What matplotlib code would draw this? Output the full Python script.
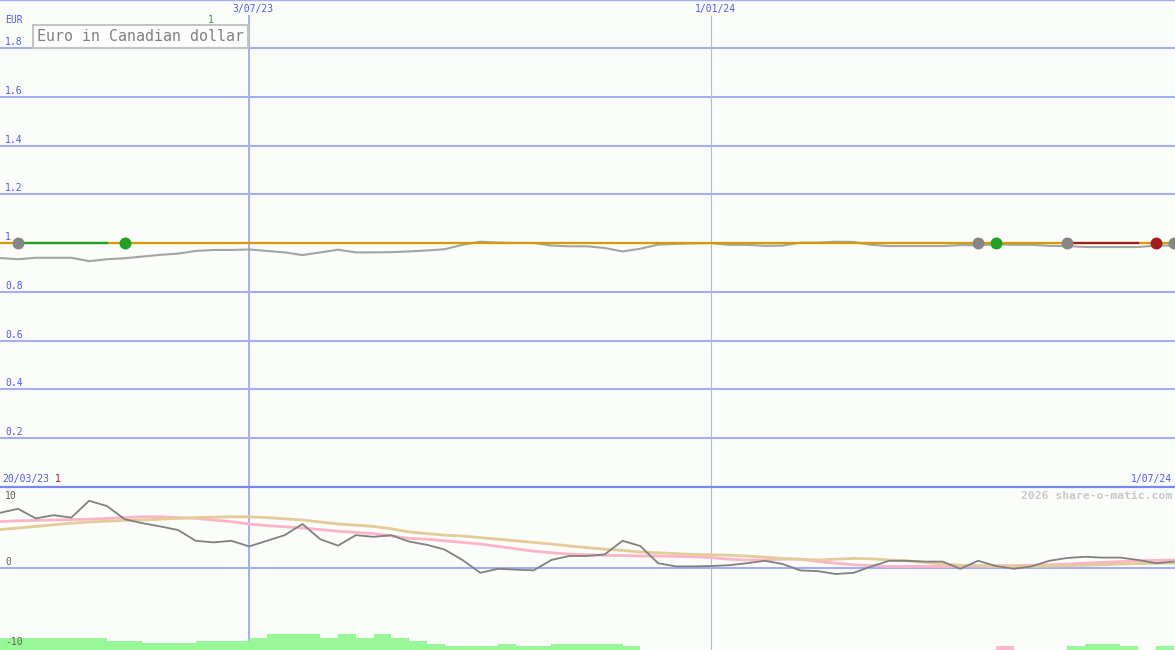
import numpy as np
import pandas as pd
import matplotlib
matplotlib.use("Agg")
import matplotlib.pyplot as plt
import matplotlib.dates as mdates
from matplotlib import transforms

plt.rcParams["font.family"] = ["DejaVu Sans Mono"]

W, H = 1175, 650

# weekly closes, first week starts 27/03/23
START = "2023-03-27"
PRICE = [0.939, 0.934, 0.940, 0.940, 0.940, 0.926, 0.934, 0.938, 0.945, 0.952,
         0.957, 0.968, 0.972, 0.972, 0.974, 0.968, 0.962, 0.951, 0.962, 0.973,
         0.962, 0.962, 0.963, 0.966, 0.970, 0.975, 0.993, 1.006, 1.002, 1.001,
         1.001, 0.990, 0.987, 0.987, 0.980, 0.966, 0.977, 0.994, 0.997, 0.999,
         1.000, 0.993, 0.993, 0.989, 0.990, 1.002, 1.002, 1.006, 1.005, 0.993,
         0.988, 0.988, 0.988, 0.988, 0.992, 0.991, 0.995, 0.993, 0.993, 0.989,
         0.988, 0.984, 0.984, 0.984, 0.984, 0.990, 0.990]
REF_LEVEL = 1.0

# oscillator panel
OSC = [6.9, 7.4, 6.2, 6.6, 6.3, 8.4, 7.75, 6.1, 5.6, 5.2,
       4.75, 3.4, 3.2, 3.4, 2.7, 3.4, 4.1, 5.5, 3.6, 2.8,
       4.1, 3.9, 4.1, 3.3, 2.9, 2.3, 1.0, -0.6, -0.1, -0.2,
       -0.3, 1.0, 1.5, 1.5, 1.7, 3.4, 2.75, 0.6, 0.2, 0.2,
       0.25, 0.35, 0.6, 0.9, 0.5, -0.3, -0.4, -0.75, -0.6, 0.2,
       0.9, 0.9, 0.8, 0.8, -0.1, 0.9, 0.25, -0.1, 0.2, 0.9,
       1.25, 1.4, 1.3, 1.3, 1.0, 0.6, 0.8]
SIG_PINK = [5.8, 5.9, 5.95, 6.0, 6.05, 6.1, 6.2, 6.3, 6.4, 6.4,
            6.3, 6.2, 6.0, 5.8, 5.5, 5.3, 5.15, 5.0, 4.8, 4.6,
            4.45, 4.3, 4.0, 3.7, 3.6, 3.4, 3.2, 3.0, 2.7, 2.4,
            2.1, 1.9, 1.75, 1.65, 1.6, 1.55, 1.5, 1.5, 1.45, 1.4,
            1.3, 1.1, 1.0, 1.0, 1.1, 1.1, 0.8, 0.6, 0.4, 0.3,
            0.2, 0.2, 0.2, 0.2, 0.2, 0.3, 0.3, 0.3, 0.35, 0.4,
            0.5, 0.6, 0.7, 0.8, 0.9, 0.95, 1.0]
SIG_TAN = [4.8, 5.0, 5.2, 5.4, 5.6, 5.75, 5.85, 5.95, 6.0, 6.1,
           6.2, 6.3, 6.35, 6.4, 6.4, 6.3, 6.15, 6.0, 5.75, 5.5,
           5.35, 5.2, 4.9, 4.5, 4.3, 4.1, 4.0, 3.8, 3.6, 3.4,
           3.2, 3.0, 2.75, 2.55, 2.35, 2.2, 2.0, 1.9, 1.8, 1.7,
           1.65, 1.6, 1.5, 1.35, 1.2, 1.1, 1.0, 1.1, 1.2, 1.15,
           1.0, 0.9, 0.7, 0.5, 0.35, 0.25, 0.2, 0.2, 0.2, 0.25,
           0.3, 0.35, 0.4, 0.5, 0.55, 0.6, 0.6]
HIST = [1.55, 1.55, 1.55, 1.55, 1.55, 1.55, 1.15, 1.15, 0.85, 0.85,
        0.85, 1.15, 1.15, 1.15, 1.55, 1.95, 1.95, 1.95, 1.55, 1.95,
        1.55, 1.95, 1.55, 1.15, 0.75, 0.45, 0.45, 0.45, 0.75, 0.45,
        0.45, 0.75, 0.75, 0.75, 0.75, 0.45, 0, 0, 0, 0,
        0, 0, 0, 0, 0, 0, 0, 0, 0, 0,
        0, 0, 0, 0, 0, 0, -0.45, 0, 0, 0,
        0.45, 0.75, 0.75, 0.45, 0, 0.45, 0]

# trades: open week index, close week index, result
TRADE_OPEN = [1, 55, 60]
TRADE_CLOSE = [7, 56, 65]
TRADE_WIN = [True, True, False]
OPEN_NOW = 66

PRICE_TICKS = [0.2, 0.4, 0.6, 0.8, 1.0, 1.2, 1.4, 1.6, 1.8]
OSC_TICKS = [10, 0, -10]
MARK_DATES = ["2023-07-03", "2024-01-01"]
MARK_LABELS = ["3/07/23", "1/01/24"]

BG = "#fbfdfb"
GRID = "#a6aef2"
BLUE_TXT = "#4c5ce6"
WIN_C, LOSS_C, OPEN_C = "#22a022", "#a21c1c", "#868686"

dates = pd.date_range(START, periods=len(PRICE), freq="7D")
px_per_day = 2.54
x0 = mdates.date2num(dates[0]) - 0.2 / px_per_day
xlim = (x0, x0 + W / px_per_day)

fig = plt.figure(figsize=(W / 100, H / 100), dpi=100, facecolor=BG)
ax1 = fig.add_axes([0, 163 / H, 1, 487 / H], facecolor=BG)
ax2 = fig.add_axes([0, 0, 1, 163 / H], facecolor=BG)
for ax in (ax1, ax2):
    ax.set_xlim(xlim)
    ax.set_xticks([])
    ax.set_yticks([])
    for s in ax.spines.values():
        s.set_visible(False)
ax1.set_ylim(0, 1.997)
ax2.set_ylim(-10.25, 10.125)

# --- top panel: price + trades
for v in PRICE_TICKS:
    ax1.axhline(v, color=GRID, lw=1.5, zorder=1)
ax1.spines["top"].set_visible(True)
ax1.spines["top"].set_color(GRID)
ax1.spines["top"].set_linewidth(1)
for i, d in enumerate(MARK_DATES):
    c, lw = ("#a8b0f0", 1.5) if i == 0 else ("#b4b8dc", 0.8)
    ax1.axvline(pd.Timestamp(d), ymax=0.968, color=c, lw=lw, zorder=1)
    ax2.axvline(pd.Timestamp(d), color=c, lw=lw, zorder=1)

ax1.plot(dates, PRICE, color="#a4a4a4", lw=1.5, zorder=2)
ax1.axhline(REF_LEVEL, color="#d89a00", lw=1.6, zorder=3)
for o, c, win in zip(TRADE_OPEN, TRADE_CLOSE, TRADE_WIN):
    col = WIN_C if win else LOSS_C
    seg = dates[o:c]
    if len(seg) > 1:
        ax1.plot(seg, [REF_LEVEL] * len(seg), color=col, lw=1.6, zorder=4)
    ax1.plot(dates[o], REF_LEVEL, "o", ms=8.6, color=OPEN_C, mec="none", zorder=5)
    ax1.plot(dates[c], REF_LEVEL, "o", ms=8.6, color=col, mec="none", zorder=5)
ax1.plot(dates[OPEN_NOW], REF_LEVEL, "o", ms=8.6, color=OPEN_C, mec="none",
         zorder=5, clip_on=True)

ytr = transforms.offset_copy(ax1.get_yaxis_transform(), fig=fig, x=0, y=1, units="dots")
for v in PRICE_TICKS:
    ax1.text(5 / W, v, f"{v:g}", transform=ytr, color=BLUE_TXT, fontsize=7,
             va="bottom", ha="left")

dtr = transforms.offset_copy(
    transforms.blended_transform_factory(ax1.transData, fig.transFigure),
    fig=fig, x=4, y=0, units="dots")
for d, lab in zip(MARK_DATES, MARK_LABELS):
    ax1.text(mdates.date2num(pd.Timestamp(d)), 1 - 9 / H, lab, transform=dtr,
             color=BLUE_TXT, fontsize=7, ha="center", va="center")

fig.text(5 / W, 1 - 20 / H, "EUR", color=BLUE_TXT, fontsize=7, va="center")
fig.text(208 / W, 1 - 20 / H, "1", color=WIN_C, fontsize=7, va="center")
fig.text(37 / W, 1 - 36.5 / H, "Euro in Canadian dollar", color="#808080",
         fontsize=10.8, va="center", ha="left",
         bbox=dict(boxstyle="square,pad=0.25", fc="#fcfdfc", ec="#c4c4c4", lw=1.5))
fig.text(2 / W, 1 - 479 / H, "20/03/23", color=BLUE_TXT, fontsize=7, va="center")
fig.text(55 / W, 1 - 479 / H, "1", color=LOSS_C, fontsize=7, va="center")
fig.text(1172 / W, 1 - 479 / H, "1/07/24", color=BLUE_TXT, fontsize=7,
         va="center", ha="right")

# --- lower panel: oscillator
ax2.spines["top"].set_visible(True)
ax2.spines["top"].set_color("#7888f0")
ax2.spines["top"].set_linewidth(1.6)
ax2.axhline(0, color=GRID, lw=1.5, zorder=1)
hist = np.array(HIST)
ax2.bar(dates, np.abs(hist), width=7, bottom=-10.25, align="edge",
        color=["#98f898" if h > 0 else "#ffb8c8" for h in hist], lw=0, zorder=2)
ax2.plot(dates, SIG_PINK, color="#ffb4c8", lw=2.0, zorder=3)
ax2.plot(dates, SIG_TAN, color="#e4cc98", lw=2.0, zorder=3)
ax2.plot(dates, OSC, color="#808080", lw=1.3, zorder=4)

otr = ax2.get_yaxis_transform()
for v in OSC_TICKS:
    if v == max(OSC_TICKS):
        tr = transforms.offset_copy(otr, fig=fig, x=0, y=-3, units="dots")
        va = "top"
    else:
        tr = transforms.offset_copy(otr, fig=fig, x=0, y=1, units="dots")
        va = "bottom"
    ax2.text(5 / W, v, f"{v}", transform=tr, color="#606060", fontsize=7,
             va=va, ha="left")
fig.text(1172 / W, 1 - 496 / H, "2026 share-o-matic.com", color="#c8c8c8",
         fontsize=8.2, fontweight="bold", va="center", ha="right")

fig.savefig("out.png", dpi=100, facecolor=BG)
